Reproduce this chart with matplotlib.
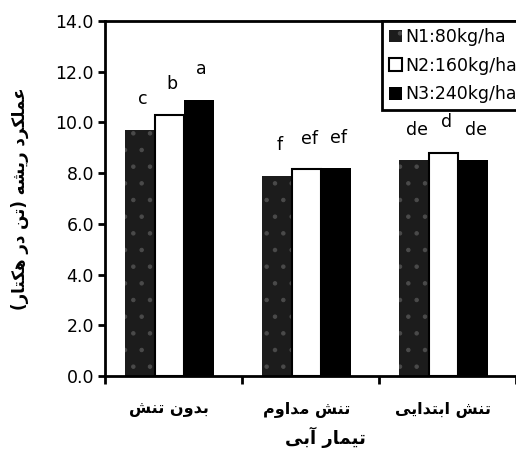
import numpy as np
import matplotlib
matplotlib.use('Agg')
import matplotlib.pyplot as plt

plt.rcParams['font.family'] = ['DejaVu Sans']
plt.rcParams['hatch.color'] = '#4a4a4a'
plt.rcParams['hatch.linewidth'] = 0.8

# data
groups = ['بدون تنش', 'تنش مداوم', 'تنش ابتدایی']
series = ['N1:80kg/ha', 'N2:160kg/ha', 'N3:240kg/ha']
n1 = [9.7, 7.9, 8.5]
n2 = [10.3, 8.15, 8.8]
n3 = [10.9, 8.2, 8.5]
n1_letters = ['c', 'f', 'de']
n2_letters = ['b', 'ef', 'd']
n3_letters = ['a', 'ef', 'de']
ylabel = 'عملکرد ریشه (تن در هکتار)'
xlabel = 'تیمار آبی'

# minimal arabic/persian shaping (no reshaper library available)
FORMS = {
    'ا': ('\uFE8D', '\uFE8E', None, None),
    'آ': ('\uFE81', '\uFE82', None, None),
    'ب': ('\uFE8F', '\uFE90', '\uFE91', '\uFE92'),
    'ت': ('\uFE95', '\uFE96', '\uFE97', '\uFE98'),
    'د': ('\uFEA9', '\uFEAA', None, None),
    'ر': ('\uFEAD', '\uFEAE', None, None),
    'ش': ('\uFEB5', '\uFEB6', '\uFEB7', '\uFEB8'),
    'ع': ('\uFEC9', '\uFECA', '\uFECB', '\uFECC'),
    'ل': ('\uFEDD', '\uFEDE', '\uFEDF', '\uFEE0'),
    'م': ('\uFEE1', '\uFEE2', '\uFEE3', '\uFEE4'),
    'ن': ('\uFEE5', '\uFEE6', '\uFEE7', '\uFEE8'),
    'ه': ('\uFEE9', '\uFEEA', '\uFEEB', '\uFEEC'),
    'و': ('\uFEED', '\uFEEE', None, None),
    'ک': ('\uFB8E', '\uFB8F', '\uFB90', '\uFB91'),
    'ی': ('\uFBFC', '\uFBFD', '\uFBFE', '\uFBFF'),
}


def shape(text):
    out = []
    for i, ch in enumerate(text):
        if ch not in FORMS:
            out.append(ch)
            continue
        prev = text[i - 1] if i > 0 else ''
        nxt = text[i + 1] if i + 1 < len(text) else ''
        jp = prev in FORMS and FORMS[prev][2] is not None
        jn = FORMS[ch][2] is not None and nxt in FORMS
        iso, fin, ini, med = FORMS[ch]
        if jp and jn:
            out.append(med)
        elif jp:
            out.append(fin)
        elif jn:
            out.append(ini)
        else:
            out.append(iso)
    s = ''.join(out)[::-1]
    return s.translate(str.maketrans('()', ')('))


fig = plt.figure(figsize=(5.16, 4.61), dpi=100)
ax = fig.add_axes([105 / 516, 85 / 461, 411 / 516, 355 / 461])

x = np.arange(len(groups)) + 0.47
w = 0.215
b1 = ax.bar(x - w, n1, w, color='#1c1c1c', hatch='.', linewidth=0, label=series[0])
b2 = ax.bar(x, n2, w, color='white', edgecolor='black', linewidth=1.5, label=series[1])
b3 = ax.bar(x + w, n3, w, color='black', edgecolor='black', linewidth=0, label=series[2])

for bars, vals, letters in [(b1, n1, n1_letters), (b2, n2, n2_letters), (b3, n3, n3_letters)]:
    for rect, v, t in zip(bars, vals, letters):
        ax.text(rect.get_x() + rect.get_width() / 2 + 0.02, v + 0.85, t,
                ha='center', va='bottom', fontsize=12.5)

ax.set_xlim(0, 3)
ax.set_ylim(0, 14)
ax.set_yticks(np.arange(0, 15, 2))
ax.set_yticklabels(['%.1f' % v for v in np.arange(0, 15, 2)], fontsize=12.5)
ax.set_xticks([0, 1, 2, 3])
ax.set_xticklabels([])
ax.set_xticks(x, minor=True)
ax.set_xticklabels([shape(g) for g in groups], minor=True, fontsize=11.5,
                   fontweight='bold')
ax.tick_params(axis='x', which='minor', length=0, pad=19)
ax.tick_params(axis='x', which='major', length=6, width=2, direction='out')
ax.tick_params(axis='y', length=5, width=2, direction='out', pad=3)

for s in ['left', 'bottom', 'top']:
    ax.spines[s].set_linewidth(2)
ax.spines['right'].set_visible(False)

ax.set_ylabel(shape(ylabel), fontsize=12, fontweight='bold')
ax.yaxis.set_label_coords(-0.185, 0.5)
ax.set_xlabel(shape(xlabel), fontsize=13, fontweight='bold')
ax.xaxis.set_label_coords(0.537, -0.143)

leg = ax.legend(loc='upper left', bbox_to_anchor=(0.673, 1.0), borderaxespad=0,
                fontsize=12.5, handlelength=0.75, handleheight=0.75, handletextpad=0.2,
                labelspacing=0.62, borderpad=0.4, fancybox=False, framealpha=1)
leg.get_frame().set_edgecolor('black')
leg.get_frame().set_linewidth(2)

fig.savefig('out.png', dpi=100)
